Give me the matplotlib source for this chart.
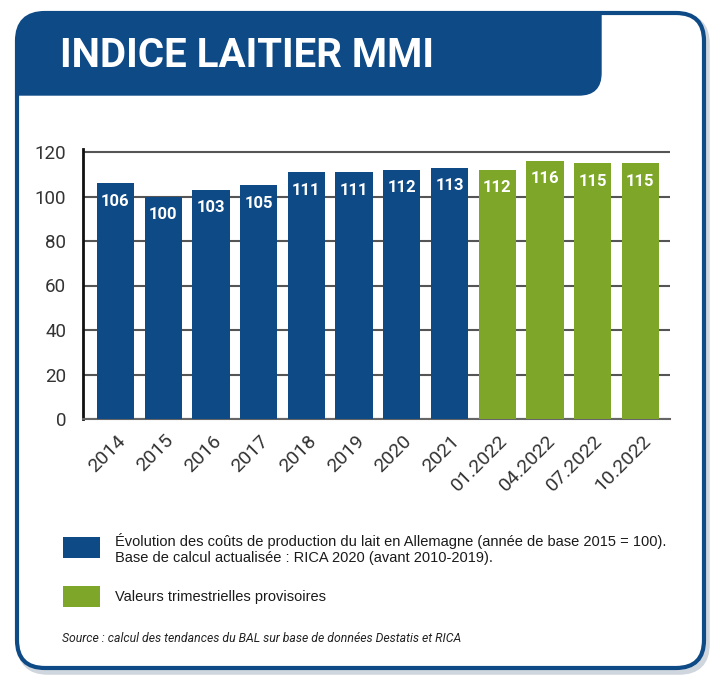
import numpy as np
import matplotlib.pyplot as plt
import matplotlib.transforms as mtransforms
from matplotlib.patches import FancyBboxPatch, PathPatch, Rectangle
from matplotlib.path import Path

# data
periods = ['2014', '2015', '2016', '2017', '2018', '2019', '2020', '2021',
           '01.2022', '04.2022', '07.2022', '10.2022']
values = [106, 100, 103, 105, 111, 111, 112, 113, 112, 116, 115, 115]
provisional = [False] * 8 + [True] * 4

title = 'INDICE LAITIER MMI'
legend_blue = ("Évolution des coûts de production du lait en Allemagne (année de base 2015 = 100).\n"
               "Base de calcul actualisée : RICA 2020 (avant 2010-2019).")
legend_green = 'Valeurs trimestrielles provisoires'
source = 'Source : calcul des tendances du BAL sur base de données Destatis et RICA'

blue = '#0e4a86'
green = '#7ea72a'
W, H = 720, 688

plt.rcParams['font.family'] = ['Roboto', 'DejaVu Sans']
fig = plt.figure(figsize=(W / 100, H / 100), dpi=100)

# frame layer in pixel coordinates
bg = fig.add_axes([0, 0, 1, 1])
bg.set_xlim(0, W)
bg.set_ylim(H, 0)
bg.axis('off')

# soft shadow then outer rounded border
bg.add_patch(FancyBboxPatch((20, 16), 687, 656, boxstyle='round,pad=0,rounding_size=28',
                            fc='none', ec='#cfd6de', lw=4, zorder=1))
bg.add_patch(FancyBboxPatch((17, 13), 687, 655, boxstyle='round,pad=0,rounding_size=28',
                            fc='white', ec=blue, lw=3, zorder=2))

# title banner
verts = [(17, 95), (17, 41), (17, 13), (45, 13), (601, 13), (601, 73),
         (601, 95), (579, 95), (17, 95)]
codes = [Path.MOVETO, Path.LINETO, Path.CURVE3, Path.CURVE3, Path.LINETO, Path.LINETO,
         Path.CURVE3, Path.CURVE3, Path.CLOSEPOLY]
bg.add_patch(PathPatch(Path(verts, codes), fc=blue, ec=blue, lw=1, zorder=3))
bg.text(60, 56, title, color='white', fontsize=29, fontweight='bold',
        va='center', ha='left', zorder=4)

# legend
bg.add_patch(Rectangle((63, 537), 37, 21, fc=blue, ec='none', zorder=4))
bg.add_patch(Rectangle((63, 586), 37, 21, fc=green, ec='none', zorder=4))
bg.text(115, 549, legend_blue, fontsize=10.5, va='center', ha='left',
        family=['Liberation Sans', 'DejaVu Sans'], color='#1a1a1a', linespacing=1.15, zorder=4)
bg.text(115, 597, legend_green, fontsize=10.5, va='center', ha='left',
        family=['Liberation Sans', 'DejaVu Sans'], color='#1a1a1a', zorder=4)
bg.text(62, 638, source, fontsize=8.8, style='italic', va='center', ha='left',
        color='#222222', zorder=4)

# bar chart
ymax = 121.5
ax_top = 419 - ymax * (267 / 120)
ax = fig.add_axes([83 / W, (H - 419) / H, (670 - 83) / W, (419 - ax_top) / H])
ax.patch.set_alpha(0)
x = np.arange(len(periods))
colors = [green if p else blue for p in provisional]
bars = ax.bar(x, values, width=0.78, color=colors, zorder=3)
ax.set_xlim(-0.68, len(periods) - 0.38)
ax.set_ylim(0, ymax)
ax.set_yticks(range(0, 121, 20))
ax.yaxis.grid(True, color='#555555', lw=1.5, zorder=0)
ax.set_axisbelow(True)
for s in ['top', 'right']:
    ax.spines[s].set_visible(False)
ax.spines['left'].set_color('#111111')
ax.spines['left'].set_linewidth(2)
ax.spines['bottom'].set_color('#666666')
ax.spines['bottom'].set_linewidth(1.5)
ax.tick_params(axis='both', length=0, colors='#333333')
ax.tick_params(axis='y', labelsize=13.5, pad=12)
ax.set_xticks(x)
ax.set_xticklabels(periods, rotation=45, ha='right', rotation_mode='anchor', fontsize=14)
ax.tick_params(axis='x', pad=9)
shift = mtransforms.ScaledTranslation(1 / 100, 0, fig.dpi_scale_trans)
for lbl in ax.get_xticklabels():
    lbl.set_transform(lbl.get_transform() + shift)
for xi, v in zip(x, values):
    ax.annotate(str(v), (xi, v), xytext=(0, -18), textcoords='offset pixels',
                ha='center', va='center', color='white', fontsize=12,
                fontweight='bold', zorder=4)

fig.savefig('out.png', dpi=100)
